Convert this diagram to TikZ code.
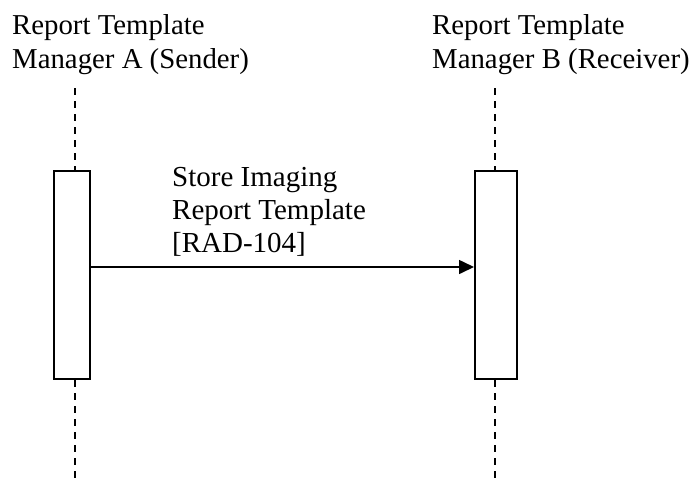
\documentclass[tikz,border=0pt]{standalone}
\usepackage{fontspec}
\setmainfont{Liberation Serif}
\usetikzlibrary{arrows.meta}
\begin{document}
\begin{tikzpicture}[x=1pt,y=-1pt,
  lbl/.style={anchor=north west,inner sep=0pt,align=left,font=\fontsize{28.8}{34.5}\selectfont},
  actbox/.style={draw,line width=2pt,fill=white,minimum height=208pt,inner sep=0pt},
  lifeline/.style={line width=2pt,dash pattern=on 7pt off 6pt},
  msg/.style={line width=1.6pt,-{Triangle[length=15pt,width=14pt]}}]
\useasboundingbox (0,0) rectangle (696,483);
\node[lbl] (la) at (12,14) {Report Template\\Manager A (Sender)};
\node[lbl] (lb) at (432,14) {Report Template\\Manager B (Receiver)};
\coordinate (topA) at (75,88);
\coordinate (botA) at (75,483);
\coordinate (topB) at (495,88);
\coordinate (botB) at (495,483);
\node[actbox,minimum width=36pt] (boxA) at (71.5,275) {};
\node[actbox,minimum width=41.5pt] (boxB) at (495.75,275) {};
\draw[lifeline] (topA) -- (topA |- boxA.north);
\draw[lifeline] (topA |- boxA.south) -- (botA);
\draw[lifeline] (topB) -- (topB |- boxB.north);
\draw[lifeline] (topB |- boxB.south) -- (botB);
\coordinate (msgy) at (0,267);
\draw[msg] (boxA.east |- msgy) -- (boxB.west |- msgy);
\node[lbl,font=\fontsize{29}{33}\selectfont] (lm) at (172,167) {Store Imaging\\Report Template\\{[RAD-104]}};
\end{tikzpicture}
\end{document}
